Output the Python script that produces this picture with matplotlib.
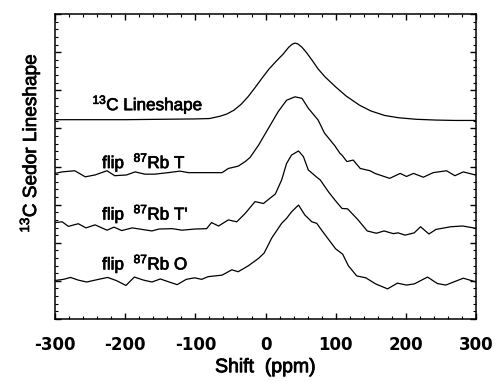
"""13C SEDOR lineshapes, four stacked traces."""

import matplotlib
matplotlib.use("Agg")
import matplotlib.pyplot as plt
import matplotlib.patheffects as pe
from matplotlib.ticker import MultipleLocator, NullFormatter

plt.rcParams["axes.unicode_minus"] = False
plt.rcParams["mathtext.fontset"] = "custom"
plt.rcParams["mathtext.rm"] = "Liberation Sans"
plt.rcParams["mathtext.default"] = "rm"

# traces: shift (ppm) and stacked intensity (axis units)
ls_x = [-300, -200, -150, -100, -80, -65, -55, -45, -35, -25, -15, -5, 5,
        15, 25, 33, 38, 42, 46, 52, 58, 66, 75, 85, 100, 115, 134, 150,
        170, 190, 215, 243, 270, 300]
ls_y = [5.23, 5.23, 5.24, 5.25, 5.26, 5.32, 5.38, 5.48, 5.63, 5.83, 6.07,
        6.32, 6.56, 6.76, 6.95, 7.13, 7.21, 7.24, 7.22, 7.13, 7.00, 6.80,
        6.56, 6.35, 6.09, 5.85, 5.61, 5.46, 5.34, 5.28, 5.24, 5.22, 5.21,
        5.21]

t_x = [-300, -290, -272, -257, -243, -226, -215, -198, -186, -172, -158,
       -139, -122, -110, -101, -82, -62, -53, -39, -29, -22, -10, 4, 18,
       30, 42, 52, 61, 75, 84, 99, 106, 109, 116, 125, 135, 149, 156, 177,
       192, 201, 211, 225, 239, 258, 270, 282, 299]
t_y = [3.82, 3.86, 3.89, 3.73, 3.78, 3.89, 3.76, 3.78, 3.86, 3.80, 3.80,
       3.84, 3.88, 3.84, 3.84, 3.84, 3.84, 3.95, 4.01, 4.13, 4.24, 4.56,
       5.00, 5.44, 5.74, 5.83, 5.79, 5.53, 5.22, 4.88, 4.54, 4.35, 4.30,
       4.13, 4.17, 3.95, 3.89, 3.82, 3.69, 3.82, 3.74, 3.82, 3.72, 3.84,
       3.89, 3.76, 3.86, 3.78]

tp_x = [-300, -290, -281, -267, -256, -243, -226, -216, -205, -190, -176,
        -162, -152, -133, -119, -101, -84, -77, -67, -53, -41, -29, -15,
        -3, 14, 23, 30, 37, 47, 54, 61, 75, 78, 90, 99, 109, 117, 131, 145,
        158, 169, 182, 189, 199, 212, 221, 233, 243, 264, 281, 300]
tp_y = [2.53, 2.55, 2.43, 2.50, 2.39, 2.47, 2.33, 2.41, 2.32, 2.39, 2.35,
        2.31, 2.36, 2.37, 2.33, 2.36, 2.37, 2.53, 2.44, 2.60, 2.55, 2.77,
        3.08, 3.03, 3.28, 3.65, 4.08, 4.30, 4.41, 4.26, 3.91, 3.69, 3.65,
        3.33, 3.12, 2.90, 2.89, 2.62, 2.31, 2.25, 2.31, 2.24, 2.26, 2.20,
        2.26, 2.42, 2.23, 2.35, 2.42, 2.44, 2.38]

o_x = [-300, -288, -278, -267, -255, -238, -225, -213, -199, -187, -174,
       -162, -150, -139, -126, -113, -101, -91, -82, -62, -48, -39, -25,
       -10, -2, 9, 23, 30, 37, 47, 56, 61, 66, 73, 80, 93, 100, 110, 118,
       130, 143, 157, 174, 188, 201, 212, 231, 245, 257, 282, 293, 300]
o_y = [1.01, 1.04, 1.09, 1.02, 0.97, 1.04, 1.09, 1.01, 0.88, 1.10, 1.02,
       0.97, 1.05, 0.98, 0.90, 1.04, 1.08, 1.04, 1.11, 1.15, 1.29, 1.24,
       1.39, 1.59, 1.73, 2.13, 2.51, 2.64, 2.81, 2.99, 2.73, 2.64, 2.55,
       2.51, 2.33, 2.01, 1.84, 1.70, 1.40, 1.13, 1.08, 0.92, 0.79, 0.94,
       0.89, 0.92, 1.10, 0.93, 0.89, 1.07, 1.01, 0.97]

labels = [r"$^{13}$C Lineshape", r"flip  $^{87}$Rb T",
          r"flip  $^{87}$Rb T'", r"flip  $^{87}$Rb O"]
label_x = [-247, -233, -233, -233]
label_y = [5.48, 3.96, 2.61, 1.30]

# scanned print looks a touch heavier than the regular face
medium = [pe.withStroke(linewidth=0.5, foreground="black")]
heavier = [pe.withStroke(linewidth=0.6, foreground="black")]

fig = plt.figure(figsize=(5.01, 3.82), dpi=100)
ax = fig.add_axes([0.110, 0.165, 0.840, 0.798])

for xs, ys in ((ls_x, ls_y), (t_x, t_y), (tp_x, tp_y), (o_x, o_y)):
    ax.plot(xs, ys, color="black", linewidth=0.9)

for s, x, y in zip(labels, label_x, label_y):
    ax.text(x, y, s, fontsize=12.3, family="Liberation Sans", va="baseline",
            path_effects=medium)

ax.set_xlim(-300, 300)
ax.set_ylim(0, 8)
ax.xaxis.set_major_locator(MultipleLocator(100))
ax.xaxis.set_minor_locator(MultipleLocator(20))
ax.yaxis.set_major_locator(MultipleLocator(1))
ax.yaxis.set_minor_locator(MultipleLocator(0.2))
ax.yaxis.set_major_formatter(NullFormatter())
ax.tick_params(which="both", direction="in", top=True, right=True)
ax.tick_params(which="major", length=4.5, width=1)
ax.tick_params(which="minor", length=2.5, width=0.8)
ax.tick_params(axis="x", pad=12)
for lab in ax.get_xticklabels():
    lab.set_fontweight("bold")
    lab.set_fontsize(12)
    lab.set_family("DejaVu Sans")
for sp in ax.spines.values():
    sp.set_linewidth(1.1)

ax.set_xlabel("Shift  (ppm)", fontsize=14, family="Liberation Sans",
              labelpad=4, path_effects=heavier)
ax.set_ylabel(r"$^{13}$C Sedor Lineshape", fontsize=13.7,
              family="Liberation Sans", path_effects=medium)
ax.yaxis.set_label_coords(-0.031, 0.577)

fig.savefig("out.png", dpi=100)
